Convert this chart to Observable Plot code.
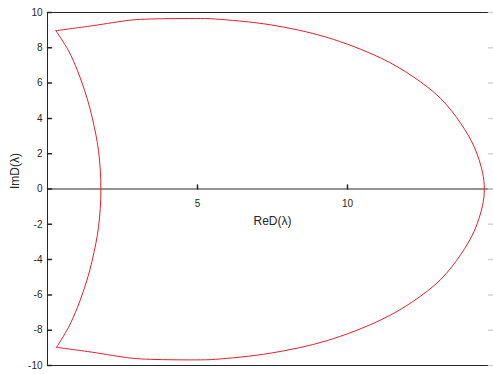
<!DOCTYPE html>
<html>
<head>
<meta charset="utf-8">
<script src="https://cdn.jsdelivr.net/npm/d3@7"></script>
<script src="https://cdn.jsdelivr.net/npm/@observablehq/plot@0.6"></script>
<style>
  body { margin: 0; background: #fff; overflow: hidden; }
</style>
</head>
<body>
<div id="chart"></div>
<script>
// Outer branch of the D-partition boundary: from the upper corner round the right side to the lower corner
const outerRe = [0.28, 1.5, 2.78, 3.44, 5.1, 5.6, 7.44, 9.3, 11.11, 12.2, 13.11, 13.78, 14.22, 14.5, 14.56,
                 14.5, 14.22, 13.78, 13.11, 12.2, 11.11, 9.3, 7.44, 5.6, 5.1, 3.44, 2.78, 1.5, 0.3];
const outerIm = [8.97, 9.25, 9.57, 9.63, 9.66, 9.63, 9.3, 8.6, 7.42, 6.35, 5.12, 3.7, 2.4, 0.95, 0,
                 -0.95, -2.4, -3.7, -5.12, -6.35, -7.42, -8.6, -9.3, -9.65, -9.68, -9.65, -9.58, -9.25, -8.97];
// Inner branch: the arc closing the region on the left
const innerRe = [0.28, 0.7, 1.0, 1.31, 1.5, 1.7, 1.78, 1.7, 1.5, 1.31, 1.0, 0.7, 0.3];
const innerIm = [8.97, 7.84, 6.7, 5.19, 3.97, 2.17, 0, -2.17, -3.97, -5.19, -6.7, -7.84, -8.97];

const yTicks = [-10, -8, -6, -4, -2, 0, 2, 4, 6, 8, 10];
const xTicks = [5, 10];

const rows = [
  ...outerRe.map((re, i) => ({arc: "outer", re, im: outerIm[i]})),
  ...innerRe.map((re, i) => ({arc: "inner", re, im: innerIm[i]}))
];

const axisColor = "#262626";
// a plain straight tick drawn by the vector mark
const tickShape = { draw(context, l) { context.moveTo(0, 0); context.lineTo(0, -l); } };

const chart = Plot.plot({
  width: 493,
  height: 374,
  marginLeft: 47,
  marginRight: -4,
  marginTop: 12,
  marginBottom: 9,
  style: {
    fontFamily: '"Liberation Sans", Arial, sans-serif',
    fontSize: "10px",
    color: axisColor,
    background: "#fff"
  },
  x: {domain: [0, 15], axis: null},
  y: {domain: [-10, 10], axis: null},
  marks: [
    // box and the real axis through the origin
    Plot.ruleY([10, -10], {stroke: axisColor, strokeWidth: 1}),
    Plot.ruleX([0], {stroke: axisColor, strokeWidth: 1}),
    Plot.ruleY([0], {stroke: axisColor, strokeWidth: 1}),
    // left ticks pointing inward, faint ticks on the right side
    Plot.vector(yTicks, {x: 0, y: d => d, length: 4, rotate: 90, anchor: "start", shape: tickShape, stroke: axisColor}),
    Plot.vector(yTicks, {x: 15, y: d => d, length: 9, rotate: -90, anchor: "start", shape: tickShape, stroke: "#d4d4d4"}),
    Plot.text(yTicks, {x: 0, y: d => d, text: d => String(d), textAnchor: "end", dx: -5, fill: axisColor}),
    // ticks and labels on the real axis
    Plot.vector(xTicks, {x: d => d, y: 0, length: 4, anchor: "start", shape: tickShape, stroke: axisColor}),
    Plot.text(xTicks, {x: d => d, y: 0, dy: 15, text: d => String(d), fill: axisColor}),
    Plot.text(["ReD(λ)"], {x: 7.5, y: 0, dy: 32, fontSize: 12, fill: axisColor}),
    Plot.text(["ImD(λ)"], {frameAnchor: "left", dx: -32, rotate: -90, fontSize: 12, fill: axisColor}),
    // the boundary curve
    Plot.line(rows, {x: "re", y: "im", z: "arc", stroke: "#e0202c", strokeWidth: 1, curve: "catmull-rom"})
  ]
});

document.getElementById("chart").append(chart);
</script>
</body>
</html>
